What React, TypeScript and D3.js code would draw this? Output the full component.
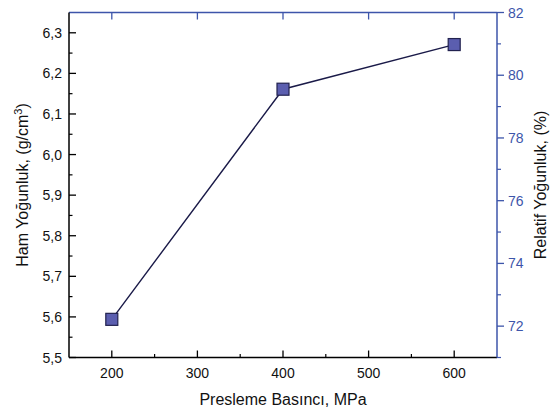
import React from "react";
import * as d3 from "d3";

const pressures = [200, 400, 600];
const greenDensity = [5.594, 6.161, 6.271];
const xTicks = [200, 300, 400, 500, 600];
const xMinor = [250, 350, 450, 550];
const yLeftTicks = [5.5, 5.6, 5.7, 5.8, 5.9, 6.0, 6.1, 6.2, 6.3];
const yLeftMinor = [5.55, 5.65, 5.75, 5.85, 5.95, 6.05, 6.15, 6.25];
const yRightTicks = [72, 74, 76, 78, 80, 82];
const yRightMinor = [71, 73, 75, 77, 79, 81];

const W = 556, H = 416;
const L = 69, R = 497, T = 12.5, B = 357.5;
const BLUE = "#3D55AA";
const FONT = "'Liberation Sans', Arial, sans-serif";

export default function App() {
  const x = d3.scaleLinear().domain([150, 650]).range([L, R]);
  const yl = d3.scaleLinear().domain([5.5, 6.35]).range([B, T]);
  const yr = d3.scaleLinear().domain([71, 82]).range([B, T]);
  const line = d3.line<number>().x((_, i) => x(pressures[i])).y((d) => yl(d));
  const fmt = (v: number) => v.toFixed(1).replace(".", ",");
  const ms = 12;
  return (
    <svg width={W} height={H} style={{ position: "absolute", left: 0, top: 0, background: "#fff" }} fontFamily={FONT}>
      {/* bottom axis */}
      <line x1={L} x2={R} y1={B} y2={B} stroke="#000" strokeWidth={1.5} />
      {xTicks.map((t) => (
        <g key={"xb" + t}>
          <line x1={x(t)} x2={x(t)} y1={B} y2={B - 7} stroke="#000" strokeWidth={1.3} />
          <text x={x(t)} y={B + 20} textAnchor="middle" fontSize={14} fill="#111">{t}</text>
        </g>
      ))}
      {xMinor.map((t) => (
        <line key={"xm" + t} x1={x(t)} x2={x(t)} y1={B} y2={B - 3.5} stroke="#000" strokeWidth={1.2} />
      ))}
      {/* top axis */}
      <line x1={L} x2={R} y1={T} y2={T} stroke={BLUE} strokeWidth={1.5} />
      {xTicks.map((t) => (
        <line key={"xt" + t} x1={x(t)} x2={x(t)} y1={T} y2={T + 7} stroke={BLUE} strokeWidth={1.3} />
      ))}
      {/* left axis */}
      <line x1={L} x2={L} y1={T} y2={B} stroke="#000" strokeWidth={1.5} />
      {yLeftTicks.map((t) => (
        <g key={"yl" + t}>
          <line x1={L} x2={L + 7} y1={yl(t)} y2={yl(t)} stroke="#000" strokeWidth={1.3} />
          <text x={L - 7} y={yl(t) + 5} textAnchor="end" fontSize={14} fill="#111">{fmt(t)}</text>
        </g>
      ))}
      {yLeftMinor.map((t) => (
        <line key={"ylm" + t} x1={L} x2={L + 3.5} y1={yl(t)} y2={yl(t)} stroke="#000" strokeWidth={1.2} />
      ))}
      {/* right axis */}
      <line x1={R} x2={R} y1={T} y2={B} stroke={BLUE} strokeWidth={1.5} />
      {yRightTicks.map((t) => (
        <g key={"yr" + t}>
          <line x1={R} x2={R + 7} y1={yr(t)} y2={yr(t)} stroke={BLUE} strokeWidth={1.3} />
          <text x={R + 11} y={yr(t) + 5} textAnchor="start" fontSize={14} fill={BLUE}>{t}</text>
        </g>
      ))}
      {yRightMinor.map((t) => (
        <line key={"yrm" + t} x1={R} x2={R + 4} y1={yr(t)} y2={yr(t)} stroke={BLUE} strokeWidth={1.2} />
      ))}
      {/* series */}
      <path d={line(greenDensity) || ""} fill="none" stroke="#1A1A48" strokeWidth={1.4} />
      {greenDensity.map((v, i) => (
        <rect key={"m" + i} x={x(pressures[i]) - ms / 2} y={yl(v) - ms / 2} width={ms} height={ms}
          fill="#5B5EAF" stroke="#22224F" strokeWidth={1.2} />
      ))}
      {/* titles */}
      <text x={(L + R) / 2} y={405} textAnchor="middle" fontSize={16} fill="#111">Presleme Basıncı, MPa</text>
      <text transform={`translate(28,${(T + B) / 2}) rotate(-90)`} textAnchor="middle" fontSize={16} fill="#111">
        Ham Yoğunluk, (g/cm<tspan dy={-6} fontSize={11}>3</tspan><tspan dy={6}>)</tspan>
      </text>
      <text transform={`translate(546,${(T + B) / 2}) rotate(-90)`} textAnchor="middle" fontSize={16} fill="#111">
        Relatif Yoğunluk, (%)
      </text>
    </svg>
  );
}
